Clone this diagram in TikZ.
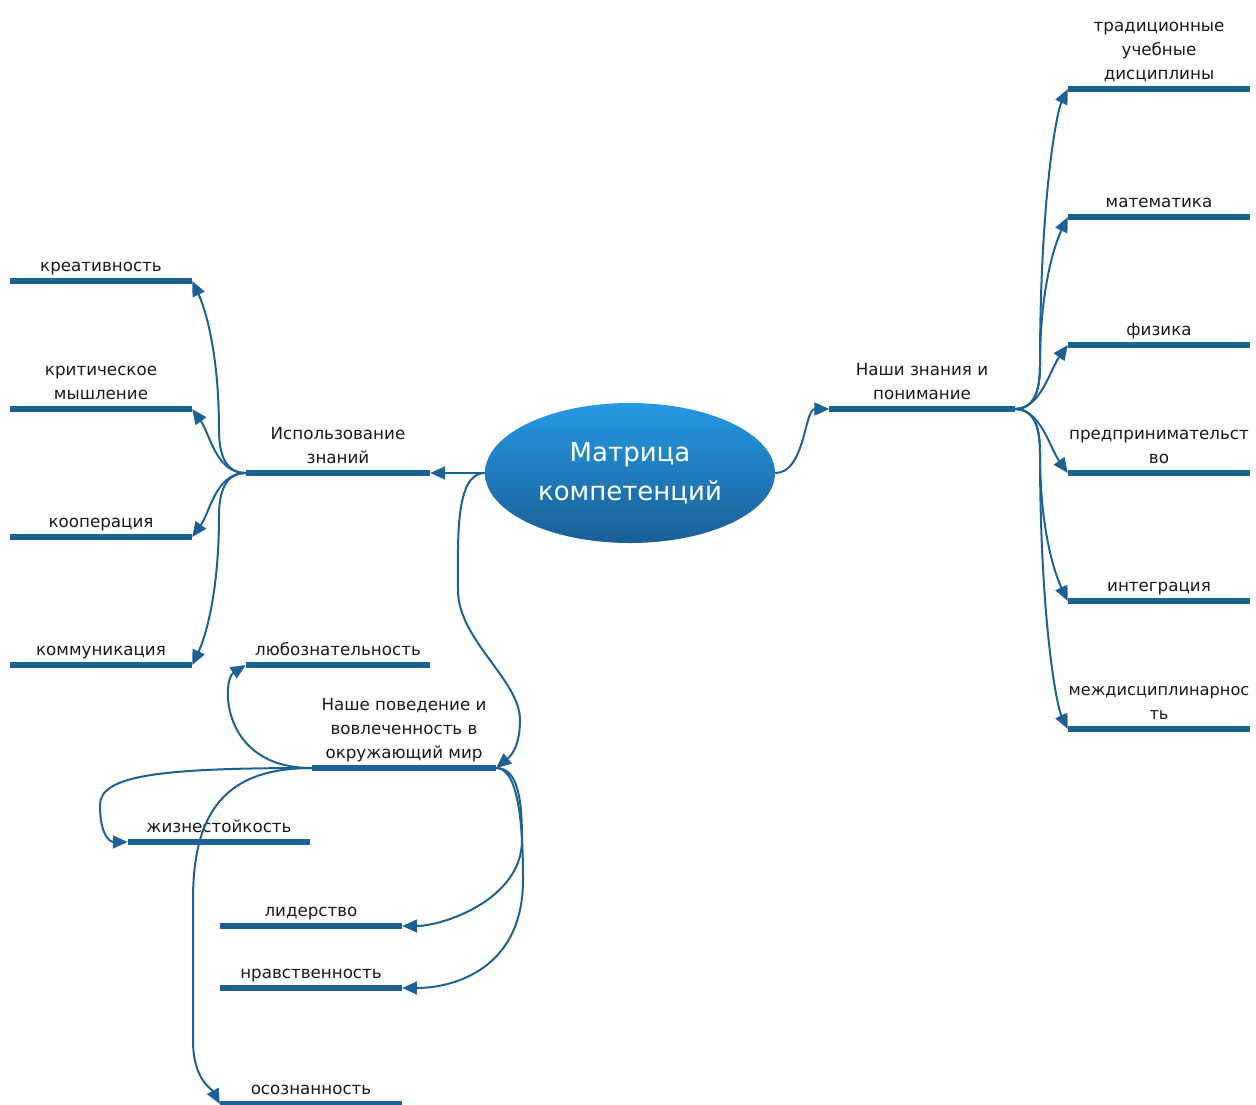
\documentclass[tikz,border=0pt]{standalone}
\usepackage{fontspec}
\setmainfont{DejaVu Sans}
\usetikzlibrary{arrows.meta, shapes.geometric}

\definecolor{mapblue}{HTML}{1D6195}
\definecolor{ovaltop}{HTML}{2599E3}
\definecolor{ovalbot}{HTML}{1B5F96}

\begin{document}
\begin{tikzpicture}[x=1pt, y=-1pt, >={Triangle[length=15pt,width=13pt]},
  topic/.style={anchor=south, align=center, minimum width=182pt, inner xsep=0pt,
    inner ysep=9pt, text depth=0pt, font=\fontsize{16.7}{24}\selectfont, text=black!90},
  bar/.style={line width=6pt, mapblue},
  conn/.style={->, line width=2pt, mapblue}]

% Bounding box
\clip (0,0) rectangle (1256,1104);

% Centre
\node[ellipse, minimum width=290pt, minimum height=140pt, top color=ovaltop,
  bottom color=ovalbot, text=white, font=\fontsize{26}{39}\selectfont,
  align=center, inner sep=0pt] (core) at (630,473) {Матрица\\компетенций};

% Main branches
\node[topic, minimum width=184pt] (use) at (338,473) {Использование\\знаний};
\node[topic, minimum width=185pt] (know) at (922,409) {Наши знания и\\понимание};
\node[topic, minimum width=184pt] (behav) at (404,768) {Наше поведение и\\вовлеченность в\\окружающий мир};

% Using knowledge
\node[topic] (creat) at (101,281) {креативность};
\node[topic] (crit) at (101,409) {критическое\\мышление};
\node[topic] (coop) at (101,537) {кооперация};
\node[topic] (comm) at (101,665) {коммуникация};

% Knowledge and understanding
\node[topic] (trad) at (1159,89) {традиционные\\учебные\\дисциплины};
\node[topic] (math) at (1159,217) {математика};
\node[topic] (phys) at (1159,345) {физика};
\node[topic] (entr) at (1159,473) {предпринимательст\\во};
\node[topic] (integ) at (1159,601) {интеграция};
\node[topic, font=\fontsize{16.2}{24}\selectfont] (inter) at (1159,729) {междисциплинарнос\\ть};

% Behaviour
\node[topic, minimum width=184pt] (curio) at (338,665) {любознательность};
\node[topic] (resil) at (219,842) {жизнестойкость};
\node[topic] (lead) at (311,926) {лидерство};
\node[topic] (moral) at (311,988) {нравственность};
\node[topic] (aware) at (311,1104) {осознанность};

% Bars
\foreach \n in {use,know,behav,creat,crit,coop,comm,trad,math,phys,entr,integ,inter,curio,resil,lead,moral,aware}
  \draw[bar] (\n.south west) -- (\n.south east);

% Connectors
\draw[conn] (core.west) -- (use.south east);
\draw[conn] (core.east) .. controls +(30,0) and +(-25,0) .. (know.south west);

% left fan
\draw[conn] (use.south west) .. controls +(-20,0) and +(0,25) .. (219,430)
  .. controls +(0,-80) and +(12,25) .. (creat.south east);
\draw[conn] (use.south west) .. controls +(-30,0) and +(18,25) .. (crit.south east);
\draw[conn] (use.south west) .. controls +(-30,0) and +(18,-25) .. (coop.south east);
\draw[conn] (use.south west) .. controls +(-20,0) and +(0,-25) .. (219,516)
  .. controls +(0,80) and +(12,-25) .. (comm.south east);

% right fan
\draw[conn] (know.south east) .. controls +(20,0) and +(0,25) .. (1040,365)
  .. controls +(0,-160) and +(-12,25) .. (trad.south west);
\draw[conn] (know.south east) .. controls +(20,0) and +(0,25) .. (1040,365)
  .. controls +(0,-80) and +(-12,25) .. (math.south west);
\draw[conn] (know.south east) .. controls +(26,0) and +(-18,25) .. (phys.south west);
\draw[conn] (know.south east) .. controls +(26,0) and +(-18,-25) .. (entr.south west);
\draw[conn] (know.south east) .. controls +(20,0) and +(0,-25) .. (1040,453)
  .. controls +(0,80) and +(-12,-25) .. (integ.south west);
\draw[conn] (know.south east) .. controls +(20,0) and +(0,-25) .. (1040,453)
  .. controls +(0,160) and +(-12,-25) .. (inter.south west);

% lower branch
\draw[conn] (core.west) .. controls +(-30,0) and +(0,-50) .. (458,590)
  .. controls +(0,50) and +(0,-40) .. (520,720)
  .. controls +(0,30) and +(12,-10) .. (behav.south east);

\draw[conn] (behav.south west) .. controls +(-92,0) and +(-24,15) .. (curio.south west);
\draw[conn] (behav.south west) .. controls +(-150,0) and +(0,-30) .. (100,805)
  .. controls +(0,35) and +(-15,0) .. (resil.south west);
\draw[conn] (behav.south west) .. controls +(-85,0) and +(0,-90) .. (193,900)
  -- (193,1040) .. controls +(0,40) and +(-8,-15) .. (aware.south west);
\draw[conn] (behav.south east) .. controls +(22,0) and +(0,-40) .. (522,840)
  .. controls +(0,60) and +(40,0) .. (lead.south east);
\draw[conn] (behav.south east) .. controls +(25,0) and +(0,-40) .. (523,880)
  .. controls +(0,90) and +(50,0) .. (moral.south east);

\end{tikzpicture}
\end{document}
